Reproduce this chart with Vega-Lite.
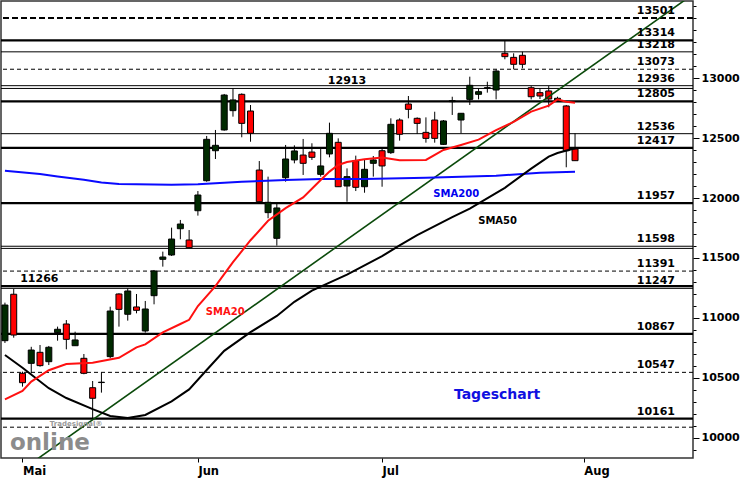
{
  "$schema": "https://vega.github.io/schema/vega-lite/v6.json",
  "width": 692,
  "height": 457,
  "autosize": {"type": "none"},
  "padding": {"left": 1, "top": 1, "right": 57, "bottom": 22},
  "background": "white",
  "config": {
    "view": {"stroke": "#333333", "strokeWidth": 1.5},
    "font": "DejaVu Sans",
    "axis": {"labelOverlap": false, "title": null, "grid": false}
  },
  "resolve": {"axis": {"y": "independent"}},
  "datasets": {
    "candles": [
      {"date": "2020-04-29", "open": 10811, "high": 11128, "low": 10792, "close": 11108},
      {"date": "2020-04-30", "open": 11198, "high": 11242, "low": 10836, "close": 10858},
      {"date": "2020-05-04", "open": 10539, "high": 10553, "low": 10428, "close": 10461},
      {"date": "2020-05-05", "open": 10622, "high": 10760, "low": 10539, "close": 10733},
      {"date": "2020-05-06", "open": 10714, "high": 10775, "low": 10594, "close": 10603},
      {"date": "2020-05-07", "open": 10636, "high": 10767, "low": 10608, "close": 10756},
      {"date": "2020-05-08", "open": 10878, "high": 10928, "low": 10811, "close": 10906},
      {"date": "2020-05-11", "open": 10950, "high": 10983, "low": 10739, "close": 10822},
      {"date": "2020-05-12", "open": 10769, "high": 10886, "low": 10769, "close": 10817},
      {"date": "2020-05-13", "open": 10664, "high": 10700, "low": 10531, "close": 10539},
      {"date": "2020-05-14", "open": 10419, "high": 10475, "low": 10164, "close": 10331},
      {"date": "2020-05-15", "open": 10462, "high": 10547, "low": 10378, "close": 10465},
      {"date": "2020-05-18", "open": 10678, "high": 11094, "low": 10664, "close": 11058},
      {"date": "2020-05-19", "open": 11200, "high": 11206, "low": 10928, "close": 11072},
      {"date": "2020-05-20", "open": 11031, "high": 11247, "low": 10978, "close": 11225},
      {"date": "2020-05-21", "open": 11092, "high": 11200, "low": 11039, "close": 11064},
      {"date": "2020-05-22", "open": 10892, "high": 11142, "low": 10878, "close": 11075},
      {"date": "2020-05-25", "open": 11186, "high": 11400, "low": 11114, "close": 11392},
      {"date": "2020-05-26", "open": 11489, "high": 11553, "low": 11428, "close": 11508},
      {"date": "2020-05-27", "open": 11525, "high": 11753, "low": 11517, "close": 11658},
      {"date": "2020-05-28", "open": 11744, "high": 11817, "low": 11656, "close": 11783},
      {"date": "2020-05-29", "open": 11650, "high": 11733, "low": 11586, "close": 11586},
      {"date": "2020-06-02", "open": 11894, "high": 12058, "low": 11853, "close": 12025},
      {"date": "2020-06-03", "open": 12144, "high": 12517, "low": 12136, "close": 12489},
      {"date": "2020-06-04", "open": 12394, "high": 12567, "low": 12325, "close": 12439},
      {"date": "2020-06-05", "open": 12567, "high": 12867, "low": 12561, "close": 12858},
      {"date": "2020-06-08", "open": 12728, "high": 12913, "low": 12678, "close": 12817},
      {"date": "2020-06-09", "open": 12864, "high": 12872, "low": 12506, "close": 12622},
      {"date": "2020-06-10", "open": 12725, "high": 12775, "low": 12469, "close": 12539},
      {"date": "2020-06-11", "open": 12233, "high": 12308, "low": 11969, "close": 11969},
      {"date": "2020-06-12", "open": 11878, "high": 12178, "low": 11831, "close": 11964},
      {"date": "2020-06-15", "open": 11664, "high": 11956, "low": 11603, "close": 11917},
      {"date": "2020-06-16", "open": 12169, "high": 12442, "low": 12136, "close": 12325},
      {"date": "2020-06-17", "open": 12317, "high": 12439, "low": 12289, "close": 12392},
      {"date": "2020-06-18", "open": 12358, "high": 12492, "low": 12192, "close": 12289},
      {"date": "2020-06-19", "open": 12383, "high": 12456, "low": 12317, "close": 12339},
      {"date": "2020-06-22", "open": 12197, "high": 12408, "low": 12178, "close": 12267},
      {"date": "2020-06-23", "open": 12367, "high": 12628, "low": 12339, "close": 12539},
      {"date": "2020-06-24", "open": 12464, "high": 12497, "low": 12094, "close": 12094},
      {"date": "2020-06-25", "open": 12100, "high": 12247, "low": 11969, "close": 12178},
      {"date": "2020-06-26", "open": 12311, "high": 12353, "low": 12058, "close": 12089},
      {"date": "2020-06-29", "open": 12094, "high": 12317, "low": 12044, "close": 12239},
      {"date": "2020-06-30", "open": 12289, "high": 12350, "low": 12178, "close": 12317},
      {"date": "2020-07-01", "open": 12394, "high": 12414, "low": 12094, "close": 12267},
      {"date": "2020-07-02", "open": 12378, "high": 12664, "low": 12367, "close": 12614},
      {"date": "2020-07-03", "open": 12650, "high": 12664, "low": 12478, "close": 12531},
      {"date": "2020-07-06", "open": 12783, "high": 12850, "low": 12664, "close": 12739},
      {"date": "2020-07-07", "open": 12664, "high": 12672, "low": 12533, "close": 12622},
      {"date": "2020-07-08", "open": 12547, "high": 12672, "low": 12461, "close": 12497},
      {"date": "2020-07-09", "open": 12650, "high": 12719, "low": 12461, "close": 12497},
      {"date": "2020-07-10", "open": 12447, "high": 12650, "low": 12442, "close": 12642},
      {"date": "2020-07-13", "open": 12803, "high": 12844, "low": 12692, "close": 12811},
      {"date": "2020-07-14", "open": 12650, "high": 12706, "low": 12539, "close": 12706},
      {"date": "2020-07-15", "open": 12822, "high": 13011, "low": 12775, "close": 12939},
      {"date": "2020-07-16", "open": 12864, "high": 12914, "low": 12822, "close": 12886},
      {"date": "2020-07-17", "open": 12917, "high": 12969, "low": 12878, "close": 12919},
      {"date": "2020-07-20", "open": 12900, "high": 13072, "low": 12822, "close": 13058},
      {"date": "2020-07-21", "open": 13206, "high": 13314, "low": 13156, "close": 13178},
      {"date": "2020-07-22", "open": 13172, "high": 13206, "low": 13072, "close": 13114},
      {"date": "2020-07-23", "open": 13189, "high": 13219, "low": 13081, "close": 13114},
      {"date": "2020-07-24", "open": 12919, "high": 12933, "low": 12822, "close": 12844},
      {"date": "2020-07-27", "open": 12878, "high": 12914, "low": 12825, "close": 12850},
      {"date": "2020-07-28", "open": 12892, "high": 12933, "low": 12756, "close": 12825},
      {"date": "2020-07-29", "open": 12811, "high": 12844, "low": 12803, "close": 12831},
      {"date": "2020-07-30", "open": 12767, "high": 12775, "low": 12256, "close": 12394},
      {"date": "2020-07-31", "open": 12408, "high": 12539, "low": 12311, "close": 12311}
    ],
    "sma20": [
      {"date": "2020-04-29", "value": 10322}, {"date": "2020-05-04", "value": 10392},
      {"date": "2020-05-05", "value": 10470}, {"date": "2020-05-07", "value": 10565},
      {"date": "2020-05-11", "value": 10617}, {"date": "2020-05-14", "value": 10628},
      {"date": "2020-05-19", "value": 10668}, {"date": "2020-05-21", "value": 10755},
      {"date": "2020-05-22", "value": 10780}, {"date": "2020-05-26", "value": 10880},
      {"date": "2020-05-28", "value": 10950}, {"date": "2020-05-29", "value": 10985},
      {"date": "2020-06-02", "value": 11100}, {"date": "2020-06-04", "value": 11265},
      {"date": "2020-06-08", "value": 11465}, {"date": "2020-06-10", "value": 11648},
      {"date": "2020-06-12", "value": 11810}, {"date": "2020-06-16", "value": 11915},
      {"date": "2020-06-18", "value": 12005}, {"date": "2020-06-22", "value": 12150},
      {"date": "2020-06-23", "value": 12220}, {"date": "2020-06-24", "value": 12275},
      {"date": "2020-06-25", "value": 12300}, {"date": "2020-06-29", "value": 12322},
      {"date": "2020-07-01", "value": 12337}, {"date": "2020-07-03", "value": 12314},
      {"date": "2020-07-08", "value": 12317}, {"date": "2020-07-10", "value": 12400},
      {"date": "2020-07-14", "value": 12442}, {"date": "2020-07-16", "value": 12486},
      {"date": "2020-07-20", "value": 12565}, {"date": "2020-07-22", "value": 12635},
      {"date": "2020-07-24", "value": 12720}, {"date": "2020-07-28", "value": 12770},
      {"date": "2020-07-29", "value": 12822}, {"date": "2020-07-30", "value": 12803},
      {"date": "2020-07-31", "value": 12794}
    ],
    "sma50": [
      {"date": "2020-04-29", "value": 10692}, {"date": "2020-05-04", "value": 10585},
      {"date": "2020-05-07", "value": 10415}, {"date": "2020-05-11", "value": 10333},
      {"date": "2020-05-14", "value": 10240}, {"date": "2020-05-18", "value": 10183},
      {"date": "2020-05-20", "value": 10166}, {"date": "2020-05-22", "value": 10192},
      {"date": "2020-05-27", "value": 10305}, {"date": "2020-05-29", "value": 10405},
      {"date": "2020-06-03", "value": 10567}, {"date": "2020-06-05", "value": 10726},
      {"date": "2020-06-10", "value": 10882}, {"date": "2020-06-15", "value": 11017},
      {"date": "2020-06-17", "value": 11135}, {"date": "2020-06-19", "value": 11228},
      {"date": "2020-06-25", "value": 11362}, {"date": "2020-07-01", "value": 11515},
      {"date": "2020-07-03", "value": 11605}, {"date": "2020-07-07", "value": 11690},
      {"date": "2020-07-13", "value": 11840}, {"date": "2020-07-15", "value": 11912},
      {"date": "2020-07-21", "value": 12085}, {"date": "2020-07-24", "value": 12245},
      {"date": "2020-07-28", "value": 12345}, {"date": "2020-07-29", "value": 12375},
      {"date": "2020-07-31", "value": 12414}
    ],
    "sma200": [
      {"date": "2020-04-29", "value": 12228}, {"date": "2020-05-06", "value": 12200},
      {"date": "2020-05-08", "value": 12180}, {"date": "2020-05-13", "value": 12152},
      {"date": "2020-05-15", "value": 12130}, {"date": "2020-05-19", "value": 12117},
      {"date": "2020-05-25", "value": 12113}, {"date": "2020-05-27", "value": 12111},
      {"date": "2020-06-02", "value": 12114}, {"date": "2020-06-09", "value": 12136},
      {"date": "2020-06-16", "value": 12150}, {"date": "2020-06-22", "value": 12158},
      {"date": "2020-06-29", "value": 12158}, {"date": "2020-07-08", "value": 12169},
      {"date": "2020-07-20", "value": 12186}, {"date": "2020-07-27", "value": 12210},
      {"date": "2020-07-31", "value": 12219}
    ],
    "trend": [
      {"date": "2020-04-29", "value": 9634},
      {"date": "2020-08-19", "value": 13674}
    ],
    "thick": [{"level": 13314}, {"level": 12805}, {"level": 12417}, {"level": 11957}, {"level": 11266}, {"level": 10867}, {"level": 10161}],
    "thin": [{"level": 13218}, {"level": 12936}, {"level": 12913}, {"level": 12536}, {"level": 11598}, {"level": 11580}, {"level": 11247}],
    "dashed": [{"level": 13073}, {"level": 11391}, {"level": 10547}, {"level": 10090}],
    "dashedThick": [{"level": 13501}],
    "rightLabels": [
      {"level": 13501}, {"level": 13314}, {"level": 13218}, {"level": 13073}, {"level": 12936},
      {"level": 12805}, {"level": 12536}, {"level": 12417}, {"level": 11957}, {"level": 11598},
      {"level": 11391}, {"level": 11247}, {"level": 10867}, {"level": 10547}, {"level": 10161}
    ]
  },
  "layer": [
    {
      "data": {"name": "thin"},
      "mark": {"type": "rule", "color": "black", "strokeWidth": 1},
      "encoding": {
        "y": {
          "field": "level", "type": "quantitative",
          "scale": {"domain": [9833.3, 13641.7], "nice": false, "zero": false},
          "axis": {
            "orient": "right", "title": null, "grid": false, "domain": false,
            "values": [10000, 10500, 11000, 11500, 12000, 12500, 13000],
            "format": "d",
            "labelOverlap": false, "labelBound": false, "labelFlush": false,
            "tickColor": "black", "tickWidth": 1, "tickSize": 6,
            "labelFont": "DejaVu Sans", "labelFontWeight": "bold", "labelFontSize": 11, "labelColor": "black",
            "labelPadding": 2
          }
        }
      }
    },
    {
      "data": {"name": "thick"},
      "mark": {"type": "rule", "color": "black", "strokeWidth": 2.2},
      "encoding": {
        "y": {
          "field": "level", "type": "quantitative",
          "axis": {
            "orient": "right", "title": null, "grid": false, "domain": false, "labels": false,
            "values": [9900, 10100, 10200, 10300, 10400, 10600, 10700, 10800, 10900, 11100, 11200, 11300, 11400, 11600, 11700, 11800, 11900, 12100, 12200, 12300, 12400, 12600, 12700, 12800, 12900, 13100, 13200, 13300, 13400, 13500, 13600],
            "tickColor": "black", "tickWidth": 1, "tickSize": 3
          }
        }
      }
    },
    {
      "data": {"name": "dashed"},
      "mark": {"type": "rule", "color": "black", "strokeWidth": 1, "strokeDash": [4, 3]},
      "encoding": {"y": {"field": "level", "type": "quantitative", "axis": null}}
    },
    {
      "data": {"name": "dashedThick"},
      "mark": {"type": "rule", "color": "black", "strokeWidth": 2, "strokeDash": [6, 3]},
      "encoding": {"y": {"field": "level", "type": "quantitative", "axis": null}}
    },
    {
      "data": {"name": "candles"},
      "mark": {"type": "rule", "color": "black", "strokeWidth": 1},
      "encoding": {
        "x": {
          "field": "date", "type": "ordinal",
          "scale": {
            "type": "point", "padding": 0.45,
            "domain": ["2020-04-29", "2020-04-30", "2020-05-04", "2020-05-05", "2020-05-06", "2020-05-07", "2020-05-08", "2020-05-11", "2020-05-12", "2020-05-13", "2020-05-14", "2020-05-15", "2020-05-18", "2020-05-19", "2020-05-20", "2020-05-21", "2020-05-22", "2020-05-25", "2020-05-26", "2020-05-27", "2020-05-28", "2020-05-29", "2020-06-02", "2020-06-03", "2020-06-04", "2020-06-05", "2020-06-08", "2020-06-09", "2020-06-10", "2020-06-11", "2020-06-12", "2020-06-15", "2020-06-16", "2020-06-17", "2020-06-18", "2020-06-19", "2020-06-22", "2020-06-23", "2020-06-24", "2020-06-25", "2020-06-26", "2020-06-29", "2020-06-30", "2020-07-01", "2020-07-02", "2020-07-03", "2020-07-06", "2020-07-07", "2020-07-08", "2020-07-09", "2020-07-10", "2020-07-13", "2020-07-14", "2020-07-15", "2020-07-16", "2020-07-17", "2020-07-20", "2020-07-21", "2020-07-22", "2020-07-23", "2020-07-24", "2020-07-27", "2020-07-28", "2020-07-29", "2020-07-30", "2020-07-31", "2020-08-03", "2020-08-04", "2020-08-05", "2020-08-06", "2020-08-07", "2020-08-10", "2020-08-11", "2020-08-12", "2020-08-13", "2020-08-14", "2020-08-17", "2020-08-18", "2020-08-19"]
          },
          "axis": {
            "title": null, "grid": false, "domain": false,
            "values": ["2020-05-04", "2020-06-02", "2020-07-01", "2020-08-03"],
            "labelExpr": "datum.value == '2020-05-04' ? 'Mai' : datum.value == '2020-06-02' ? 'Jun' : datum.value == '2020-07-01' ? 'Jul' : 'Aug'",
            "labelAngle": 0, "labelAlign": "left", "labelDx": 1,
            "tickSize": 4, "tickColor": "black",
            "labelFont": "DejaVu Sans", "labelFontWeight": "bold", "labelFontSize": 11.5, "labelColor": "black",
            "labelPadding": 3
          }
        },
        "y": {"field": "low", "type": "quantitative", "axis": null},
        "y2": {"field": "high"}
      }
    },
    {
      "data": {"name": "candles"},
      "mark": {"type": "bar", "size": 6, "stroke": "black", "strokeWidth": 1},
      "encoding": {
        "x": {"field": "date", "type": "ordinal"},
        "y": {"field": "open", "type": "quantitative", "axis": null},
        "y2": {"field": "close"},
        "fill": {"condition": {"test": "datum.close >= datum.open", "value": "#002a00"}, "value": "#ff0000"}
      }
    },
    {
      "data": {"name": "trend"},
      "mark": {"type": "line", "color": "#0b4a0b", "strokeWidth": 1.6, "clip": true},
      "encoding": {
        "x": {"field": "date", "type": "ordinal"},
        "y": {"field": "value", "type": "quantitative", "axis": null}
      }
    },
    {
      "data": {"name": "sma200"},
      "mark": {"type": "line", "color": "#0a0aff", "strokeWidth": 2},
      "encoding": {
        "x": {"field": "date", "type": "ordinal"},
        "y": {"field": "value", "type": "quantitative", "axis": null}
      }
    },
    {
      "data": {"name": "sma50"},
      "mark": {"type": "line", "color": "black", "strokeWidth": 2},
      "encoding": {
        "x": {"field": "date", "type": "ordinal"},
        "y": {"field": "value", "type": "quantitative", "axis": null}
      }
    },
    {
      "data": {"name": "sma20"},
      "mark": {"type": "line", "color": "#ff1010", "strokeWidth": 2},
      "encoding": {
        "x": {"field": "date", "type": "ordinal"},
        "y": {"field": "value", "type": "quantitative", "axis": null}
      }
    },
    {
      "data": {"name": "rightLabels"},
      "mark": {"type": "text", "align": "right", "baseline": "alphabetic", "dx": 3.5, "dy": -4, "font": "DejaVu Sans", "fontWeight": "bold", "fontSize": 11, "color": "black"},
      "encoding": {
        "x": {"datum": "2020-08-17", "type": "ordinal"},
        "y": {"field": "level", "type": "quantitative", "axis": null},
        "text": {"field": "level", "type": "quantitative", "format": "d"}
      }
    },
    {
      "data": {"values": [{}]},
      "mark": {"type": "text", "align": "center", "baseline": "alphabetic", "dy": -4, "font": "DejaVu Sans", "fontWeight": "bold", "fontSize": 11, "color": "black"},
      "encoding": {
        "x": {"datum": "2020-06-25", "type": "ordinal"},
        "y": {"datum": 12913, "type": "quantitative", "axis": null},
        "text": {"value": "12913"}
      }
    },
    {
      "data": {"values": [{}]},
      "mark": {"type": "text", "align": "center", "baseline": "alphabetic", "dy": -4.5, "dx": -0.7, "font": "DejaVu Sans", "fontWeight": "bold", "fontSize": 11, "color": "black"},
      "encoding": {
        "x": {"datum": "2020-05-06", "type": "ordinal"},
        "y": {"datum": 11266, "type": "quantitative", "axis": null},
        "text": {"value": "11266"}
      }
    },
    {
      "data": {"values": [{}]},
      "mark": {"type": "text", "align": "center", "baseline": "alphabetic", "dx": 4, "font": "DejaVu Sans", "fontWeight": "bold", "fontSize": 10, "color": "#0000ee"},
      "encoding": {
        "x": {"datum": "2020-07-13", "type": "ordinal"},
        "y": {"datum": 12008, "type": "quantitative", "axis": null},
        "text": {"value": "SMA200"}
      }
    },
    {
      "data": {"values": [{}]},
      "mark": {"type": "text", "align": "center", "baseline": "alphabetic", "dx": 1.5, "font": "DejaVu Sans", "fontWeight": "bold", "fontSize": 10, "color": "black"},
      "encoding": {
        "x": {"datum": "2020-07-20", "type": "ordinal"},
        "y": {"datum": 11786, "type": "quantitative", "axis": null},
        "text": {"value": "SMA50"}
      }
    },
    {
      "data": {"values": [{}]},
      "mark": {"type": "text", "align": "center", "baseline": "alphabetic", "dx": 1, "font": "DejaVu Sans", "fontWeight": "bold", "fontSize": 10, "color": "#ff1010"},
      "encoding": {
        "x": {"datum": "2020-06-05", "type": "ordinal"},
        "y": {"datum": 11022, "type": "quantitative", "axis": null},
        "text": {"value": "SMA20"}
      }
    },
    {
      "data": {"values": [{}]},
      "mark": {"type": "text", "align": "center", "baseline": "alphabetic", "dx": 1, "font": "DejaVu Sans", "fontWeight": "bold", "fontSize": 14, "color": "#1010e0"},
      "encoding": {
        "x": {"datum": "2020-07-20", "type": "ordinal"},
        "y": {"datum": 10329, "type": "quantitative", "axis": null},
        "text": {"value": "Tageschart"}
      }
    },
    {
      "data": {"values": [{}]},
      "mark": {"type": "text", "align": "left", "baseline": "alphabetic", "dx": 5, "font": "DejaVu Sans", "fontWeight": "bold", "fontSize": 23, "color": "#8c8c8c"},
      "encoding": {
        "x": {"datum": "2020-04-29", "type": "ordinal"},
        "y": {"datum": 9900, "type": "quantitative", "axis": null},
        "text": {"value": "online"}
      }
    },
    {
      "data": {"values": [{}]},
      "mark": {"type": "text", "align": "left", "baseline": "alphabetic", "dx": 1, "font": "DejaVu Sans", "fontWeight": "bold", "fontSize": 7, "color": "#9a9a9a"},
      "encoding": {
        "x": {"datum": "2020-05-07", "type": "ordinal"},
        "y": {"datum": 10100, "type": "quantitative", "axis": null},
        "text": {"value": "Tradesignal®"}
      }
    }
  ]
}
